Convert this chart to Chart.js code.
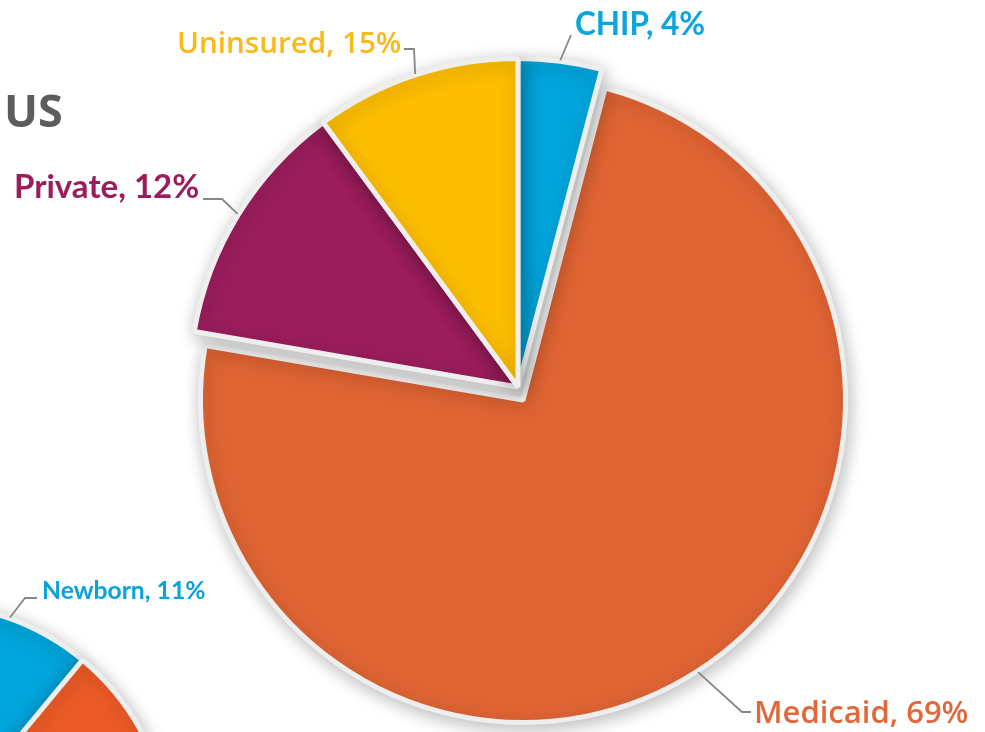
<!DOCTYPE html>
<html>
<head>
<meta charset="utf-8">
<script src="https://cdn.jsdelivr.net/npm/chart.js@4.4.1/dist/chart.umd.min.js"></script>
<style>
  html, body { margin: 0; padding: 0; background: #fff; overflow: hidden; }
  #stage { position: relative; width: 985px; height: 732px; overflow: hidden; }
  canvas { position: absolute; left: 0; top: 0; }
  #sideChart { left: -373px; top: 548px; }
</style>
</head>
<body>
<div id="stage">
  <canvas id="sideChart" width="600" height="600"></canvas>
  <canvas id="pulledChart" width="985" height="732"></canvas>
  <canvas id="mainChart" width="985" height="732"></canvas>
</div>
<script>
// big pie, slices clockwise from 12 o'clock
const categories = ["CHIP", "Medicaid", "Private", "Uninsured"];
const sliceShares = [4.1, 73.6, 12.2, 10.1];   // measured off the slice angles
const labelPercents = [4, 69, 12, 15];         // as printed next to the slices
const sliceColors = ["#00a5dc", "#e06433", "#9b1d5c", "#fdbe00"];
const labelColors = ["#0aa5dd", "#e2683a", "#9b1d5c", "#f8ba18"];
const pulledOut = 1; // Medicaid is drawn pulled away from the rest

// second pie, cut off at the bottom left (only the first two slices show)
const sideCategories = ["Newborn", "Other"];
const sideShares = [11, 89];
const sideLabelPercents = [11, null];
const sideColors = ["#00a5dc", "#ec5b27"];
const sideLabelColors = ["#0aa2d9", null];

const titleText = "US";

const calibriLike = "Lato, 'Open Sans', sans-serif";
const roundLike = "'Open Sans', Lato, sans-serif";
const clear = "rgba(0,0,0,0)";
const gapColor = "#eeeeee";

const softShadow = {
  id: "softShadow",
  beforeDatasetsDraw(chart, args, opts) {
    const ctx = chart.ctx;
    ctx.save();
    ctx.shadowColor = opts.color;
    ctx.shadowBlur = opts.blur;
    ctx.shadowOffsetX = opts.dx;
    ctx.shadowOffsetY = opts.dy;
  },
  afterDatasetsDraw(chart) {
    chart.ctx.restore();
  }
};

const sliceLabels = {
  id: "sliceLabels",
  afterDraw(chart, args, opts) {
    const ctx = chart.ctx;
    const arcs = chart.getDatasetMeta(0).data;
    const ox = opts.originX || 0, oy = opts.originY || 0;
    ctx.save();
    (opts.items || []).forEach(item => {
      const arc = arcs[item.index];
      const mid = (arc.startAngle + arc.endAngle) / 2;
      const r = arc.outerRadius + 1;
      ctx.strokeStyle = "#878787";
      ctx.lineWidth = 1.8;
      ctx.beginPath();
      ctx.moveTo(arc.x + Math.cos(mid) * r, arc.y + Math.sin(mid) * r);
      ctx.lineTo(item.elbow[0] - ox, item.elbow[1] - oy);
      ctx.lineTo(item.end[0] - ox, item.end[1] - oy);
      ctx.stroke();

      ctx.font = item.font;
      ctx.fillStyle = item.color;
      ctx.textAlign = "left";
      ctx.textBaseline = "alphabetic";
      ctx.fillText(item.text, item.at[0] - ox, item.at[1] - oy);
    });
    if (opts.title) {
      ctx.font = opts.title.font;
      ctx.fillStyle = opts.title.color;
      ctx.fillText(opts.title.text, opts.title.at[0], opts.title.at[1]);
    }
    ctx.restore();
  }
};

const mainLabelLayout = [
  { index: 0, elbow: [571, 35], end: [571, 35], at: [575, 35], font: "700 31.5px " + calibriLike },
  { index: 1, elbow: [742, 712], end: [751, 712], at: [754, 723], font: "600 31px " + roundLike },
  { index: 2, elbow: [222, 199], end: [203, 199], at: [14, 198], font: "700 33px " + calibriLike },
  { index: 3, elbow: [414, 49], end: [404, 49], at: [177, 53], font: "600 29.6px " + roundLike }
];

const sideOrigin = [-373, 548];
const sideLabelLayout = [
  { index: 0, elbow: [25, 598], end: [37, 598], at: [42, 599], font: "700 24.7px " + calibriLike }
];

function withText(layout, names, pcts, colors) {
  return layout.map(l => ({
    ...l,
    text: `${names[l.index]}, ${pcts[l.index]}%`,
    color: colors[l.index]
  }));
}

function drawPie(id, cfg) {
  return new Chart(document.getElementById(id), {
    type: "pie",
    data: {
      labels: cfg.labels,
      datasets: [{
        data: cfg.data,
        backgroundColor: cfg.colors,
        borderColor: gapColor,
        borderWidth: cfg.borders,
        radius: cfg.radius
      }]
    },
    options: {
      responsive: false,
      animation: false,
      devicePixelRatio: 1,
      layout: { padding: cfg.padding },
      plugins: {
        legend: { display: false },
        tooltip: { enabled: false },
        softShadow: { color: "rgba(0,0,0,0.26)", blur: 18, dx: 2, dy: 4 },
        sliceLabels: cfg.labelOpts
      }
    },
    plugins: [softShadow, sliceLabels]
  });
}

// the pulled-out Medicaid slice sits a bit lower and is a bit smaller
drawPie("pulledChart", {
  labels: categories,
  data: sliceShares,
  colors: sliceColors.map((c, i) => i === pulledOut ? c : clear),
  borders: sliceColors.map((c, i) => i === pulledOut ? 5 : 0),
  radius: 322.5,
  padding: { left: 61, right: 0, top: 68, bottom: 0 },
  labelOpts: {
    items: withText(mainLabelLayout.filter(l => l.index === pulledOut), categories, labelPercents, labelColors)
  }
});

// the rest of the big pie
drawPie("mainChart", {
  labels: categories,
  data: sliceShares,
  colors: sliceColors.map((c, i) => i === pulledOut ? clear : c),
  borders: sliceColors.map((c, i) => i === pulledOut ? 0 : 5),
  radius: 328.5,
  padding: { left: 51, right: 0, top: 42, bottom: 0 },
  labelOpts: {
    items: withText(mainLabelLayout.filter(l => l.index !== pulledOut), categories, labelPercents, labelColors),
    title: { text: titleText, at: [4, 127], font: "700 45px " + roundLike, color: "#5d5d5d" }
  }
});

drawPie("sideChart", {
  labels: sideCategories,
  data: sideShares,
  colors: sideColors,
  borders: 5,
  radius: 244,
  padding: 0,
  labelOpts: {
    originX: sideOrigin[0],
    originY: sideOrigin[1],
    items: withText(sideLabelLayout, sideCategories, sideLabelPercents, sideLabelColors)
  }
});
</script>
</body>
</html>
